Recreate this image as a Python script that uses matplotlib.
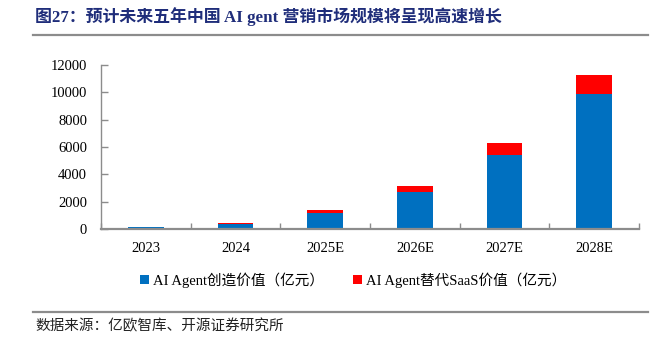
import matplotlib
matplotlib.use("Agg")
import matplotlib.pyplot as plt
from matplotlib.patches import Patch
from matplotlib.lines import Line2D
import numpy as np

plt.rcParams['font.family'] = ['Liberation Serif', 'Noto Sans CJK SC']

categories = ['2023', '2024', '2025E', '2026E', '2027E', '2028E']
created_value = [120, 340, 1150, 2730, 5420, 9860]
replaced_saas = [50, 130, 270, 440, 850, 1390]
series_names = ['AI Agent创造价值（亿元）', 'AI Agent替代SaaS价值（亿元）']
yticks = [0, 2000, 4000, 6000, 8000, 10000, 12000]
title = '图27：预计未来五年中国 AI gent 营销市场规模将呈现高速增长'
source = '数据来源：亿欧智库、开源证券研究所'

W, H = 662, 339
fig = plt.figure(figsize=(W / 100, H / 100), dpi=100)
ax = fig.add_axes([101 / W, 1 - 229 / H, (639 - 101) / W, (229 - 65) / H])

blue = '#0070C0'
red = '#FF0000'
gray = '#8C8C8C'

x = np.arange(len(categories))
ax.bar(x, created_value, width=0.4, color=blue, zorder=2)
ax.bar(x, replaced_saas, width=0.4, bottom=created_value, color=red, zorder=2)

ax.set_xlim(-0.5, len(categories) - 0.5)
ax.set_ylim(0, 12000)
ax.set_yticks(yticks)
ax.set_yticklabels([str(v) for v in yticks], fontsize=10.5)
ax.set_xticks(x)
ax.set_xticklabels(categories, fontsize=10.5)
ax.set_xticks(np.arange(len(categories) + 1) - 0.5, minor=True)
ax.tick_params(axis='x', which='major', length=0, pad=9)
ax.tick_params(axis='x', which='minor', direction='in', length=4, color=gray, width=1)
ax.tick_params(axis='y', direction='in', length=5, color=gray, width=1, pad=10)
for s in ['top', 'right']:
    ax.spines[s].set_visible(False)
ax.spines['left'].set_color(gray)
ax.spines['bottom'].set_color(gray)
ax.spines['bottom'].set_linewidth(1.6)
ax.spines['left'].set_linewidth(1.0)

handles = [Patch(facecolor=blue, edgecolor='none'), Patch(facecolor=red, edgecolor='none')]
fig.legend(handles, series_names, loc='center left', bbox_to_anchor=(140 / W, 1 - 280 / H),
           ncol=2, frameon=False, fontsize=10.5, handlelength=0.6, handleheight=0.6,
           handletextpad=0.3, columnspacing=2.0, borderpad=0, borderaxespad=0)

fig.text(35 / W, 1 - 17 / H, title, fontsize=12.2, fontweight='bold', color='#1F2D7A',
         ha='left', va='center')
fig.add_artist(Line2D([33 / W, 648 / W], [1 - 34.5 / H, 1 - 34.5 / H], color=gray, linewidth=1.6))
fig.add_artist(Line2D([33 / W, 648 / W], [1 - 312 / H, 1 - 312 / H], color=gray, linewidth=1.6))
fig.text(35 / W, 1 - 326 / H, source, fontsize=10.5, color='#222222', ha='left', va='center')

fig.savefig('out.png', dpi=100)
